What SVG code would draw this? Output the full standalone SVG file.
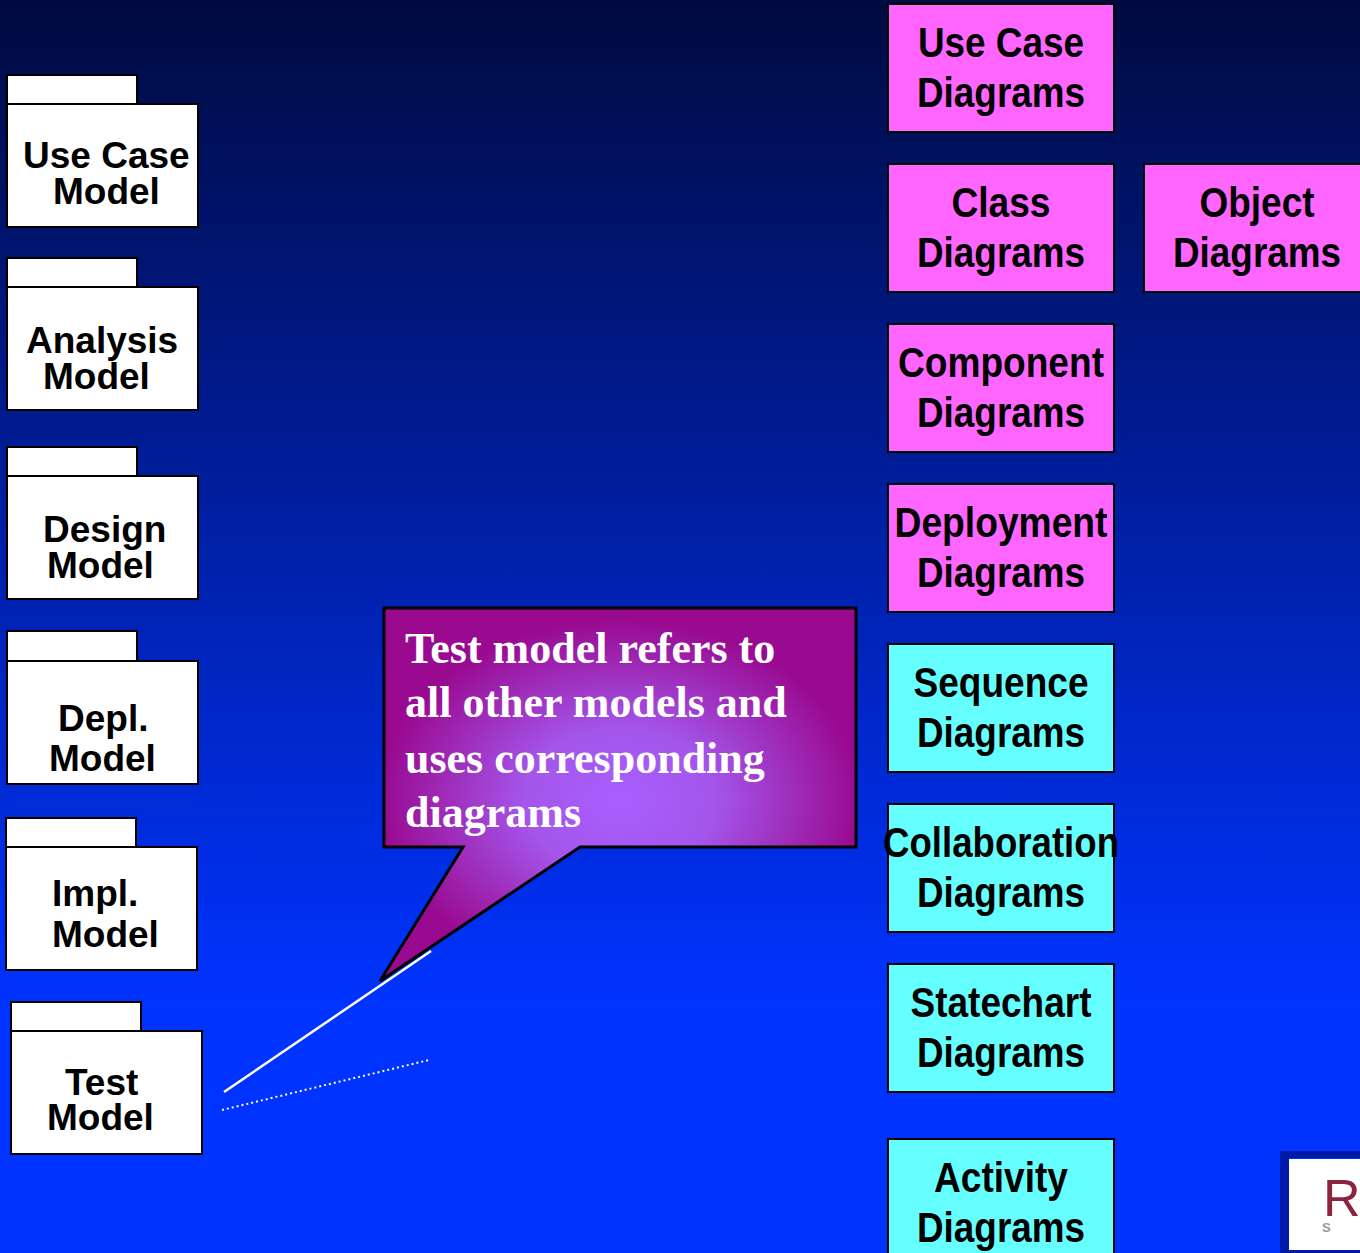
<svg xmlns="http://www.w3.org/2000/svg" width="1360" height="1253" viewBox="0 0 1360 1253">
<style>
.pk{fill:#fff;stroke:#000;stroke-width:2}
.lb{font:bold 37px "Liberation Sans",Arial,sans-serif;fill:#000}
.bx{stroke:#000;stroke-width:2}
.pink{fill:#ff66ff}
.cyan{fill:#66ffff}
.dg{font:bold 43px "Liberation Sans",Arial,sans-serif;fill:#000;text-anchor:middle}
.ct{font:bold 44px "Liberation Serif","Times New Roman",serif;fill:#fff}
</style>
<defs>
<linearGradient id="bg" x1="0" y1="0" x2="0" y2="1"><stop offset="0" stop-color="#000a40"/><stop offset=".8" stop-color="#0033ff"/><stop offset="1" stop-color="#0033ff"/></linearGradient>
<radialGradient id="cg" gradientUnits="userSpaceOnUse" cx="620" cy="800" r="240" gradientTransform="translate(620 800) scale(1 .75) translate(-620 -800)"><stop offset="0" stop-color="#a95fff"/><stop offset=".4" stop-color="#a455ea"/><stop offset="1" stop-color="#990a90"/></radialGradient>
</defs>
<rect id="background" width="1360" height="1253" fill="url(#bg)"/>
<g id="pkg-use-case"><rect class="pk" x="7" y="75" width="130" height="29"/><rect class="pk" x="7" y="104" width="191" height="123"/><text class="lb" x="23" y="168">Use Case</text><text class="lb" x="53" y="204">Model</text></g>
<g id="pkg-analysis"><rect class="pk" x="7" y="258" width="130" height="29"/><rect class="pk" x="7" y="287" width="191" height="123"/><text class="lb" x="26" y="353">Analysis</text><text class="lb" x="43" y="389">Model</text></g>
<g id="pkg-design"><rect class="pk" x="7" y="447" width="130" height="29"/><rect class="pk" x="7" y="476" width="191" height="123"/><text class="lb" x="43" y="542">Design</text><text class="lb" x="47" y="578">Model</text></g>
<g id="pkg-depl"><rect class="pk" x="7" y="631" width="130" height="30"/><rect class="pk" x="7" y="661" width="191" height="123"/><text class="lb" x="58" y="731">Depl.</text><text class="lb" x="49" y="771">Model</text></g>
<g id="pkg-impl"><rect class="pk" x="6" y="818" width="130" height="29"/><rect class="pk" x="6" y="847" width="191" height="123"/><text class="lb" x="52" y="906">Impl.</text><text class="lb" x="52" y="947">Model</text></g>
<g id="pkg-test"><rect class="pk" x="11" y="1002" width="130" height="29"/><rect class="pk" x="11" y="1031" width="191" height="123"/><text class="lb" x="65" y="1095">Test</text><text class="lb" x="47" y="1130">Model</text></g>
<g id="box-use-case"><rect class="bx pink" x="888" y="4" width="226" height="128"/><text class="dg" x="1001" y="57" textLength="166" lengthAdjust="spacingAndGlyphs">Use Case</text><text class="dg" x="1001" y="107" textLength="168" lengthAdjust="spacingAndGlyphs">Diagrams</text></g>
<g id="box-class"><rect class="bx pink" x="888" y="164" width="226" height="128"/><text class="dg" x="1001" y="217" textLength="99" lengthAdjust="spacingAndGlyphs">Class</text><text class="dg" x="1001" y="267" textLength="168" lengthAdjust="spacingAndGlyphs">Diagrams</text></g>
<g id="box-object"><rect class="bx pink" x="1144" y="164" width="226" height="128"/><text class="dg" x="1257" y="217" textLength="115" lengthAdjust="spacingAndGlyphs">Object</text><text class="dg" x="1257" y="267" textLength="168" lengthAdjust="spacingAndGlyphs">Diagrams</text></g>
<g id="box-component"><rect class="bx pink" x="888" y="324" width="226" height="128"/><text class="dg" x="1001" y="377" textLength="206" lengthAdjust="spacingAndGlyphs">Component</text><text class="dg" x="1001" y="427" textLength="168" lengthAdjust="spacingAndGlyphs">Diagrams</text></g>
<g id="box-deployment"><rect class="bx pink" x="888" y="484" width="226" height="128"/><text class="dg" x="1001" y="537" textLength="213" lengthAdjust="spacingAndGlyphs">Deployment</text><text class="dg" x="1001" y="587" textLength="168" lengthAdjust="spacingAndGlyphs">Diagrams</text></g>
<g id="box-sequence"><rect class="bx cyan" x="888" y="644" width="226" height="128"/><text class="dg" x="1001" y="697" textLength="175" lengthAdjust="spacingAndGlyphs">Sequence</text><text class="dg" x="1001" y="747" textLength="168" lengthAdjust="spacingAndGlyphs">Diagrams</text></g>
<g id="box-collaboration"><rect class="bx cyan" x="888" y="804" width="226" height="128"/><text class="dg" x="1001" y="857" textLength="236" lengthAdjust="spacingAndGlyphs">Collaboration</text><text class="dg" x="1001" y="907" textLength="168" lengthAdjust="spacingAndGlyphs">Diagrams</text></g>
<g id="box-statechart"><rect class="bx cyan" x="888" y="964" width="226" height="128"/><text class="dg" x="1001" y="1017" textLength="181" lengthAdjust="spacingAndGlyphs">Statechart</text><text class="dg" x="1001" y="1067" textLength="168" lengthAdjust="spacingAndGlyphs">Diagrams</text></g>
<g id="box-activity"><rect class="bx cyan" x="888" y="1139" width="226" height="128"/><text class="dg" x="1001" y="1192" textLength="134" lengthAdjust="spacingAndGlyphs">Activity</text><text class="dg" x="1001" y="1242" textLength="168" lengthAdjust="spacingAndGlyphs">Diagrams</text></g>
<g id="callout"><path d="M384 608H856V847H580L380 981L463 847H384Z" fill="url(#cg)" stroke="#000" stroke-width="3"/>
<text class="ct" x="405" y="663">Test model refers to</text><text class="ct" x="405" y="717">all other models and</text><text class="ct" x="405" y="773">uses corresponding</text><text class="ct" x="405" y="827">diagrams</text></g>
<g id="connectors"><line x1="224" y1="1092" x2="431" y2="951" stroke="#fff" stroke-width="2.5"/><line x1="222" y1="1110" x2="429" y2="1060" stroke="#fff" stroke-width="2" stroke-dasharray="2 3"/></g>
<g id="logo"><path d="M1280 1151H1360V1158H1289V1250H1360V1253H1280Z" fill="#0019a8"/><rect x="1289" y="1159" width="71" height="91" fill="#fff"/><text x="1323" y="1216" font-family="Liberation Sans,Arial,sans-serif" font-size="52" fill="#8c2440">RA</text><text x="1322" y="1232" font-family="Liberation Sans,Arial,sans-serif" font-size="13" font-weight="bold" fill="#999" textLength="50">S O</text></g>
</svg>
